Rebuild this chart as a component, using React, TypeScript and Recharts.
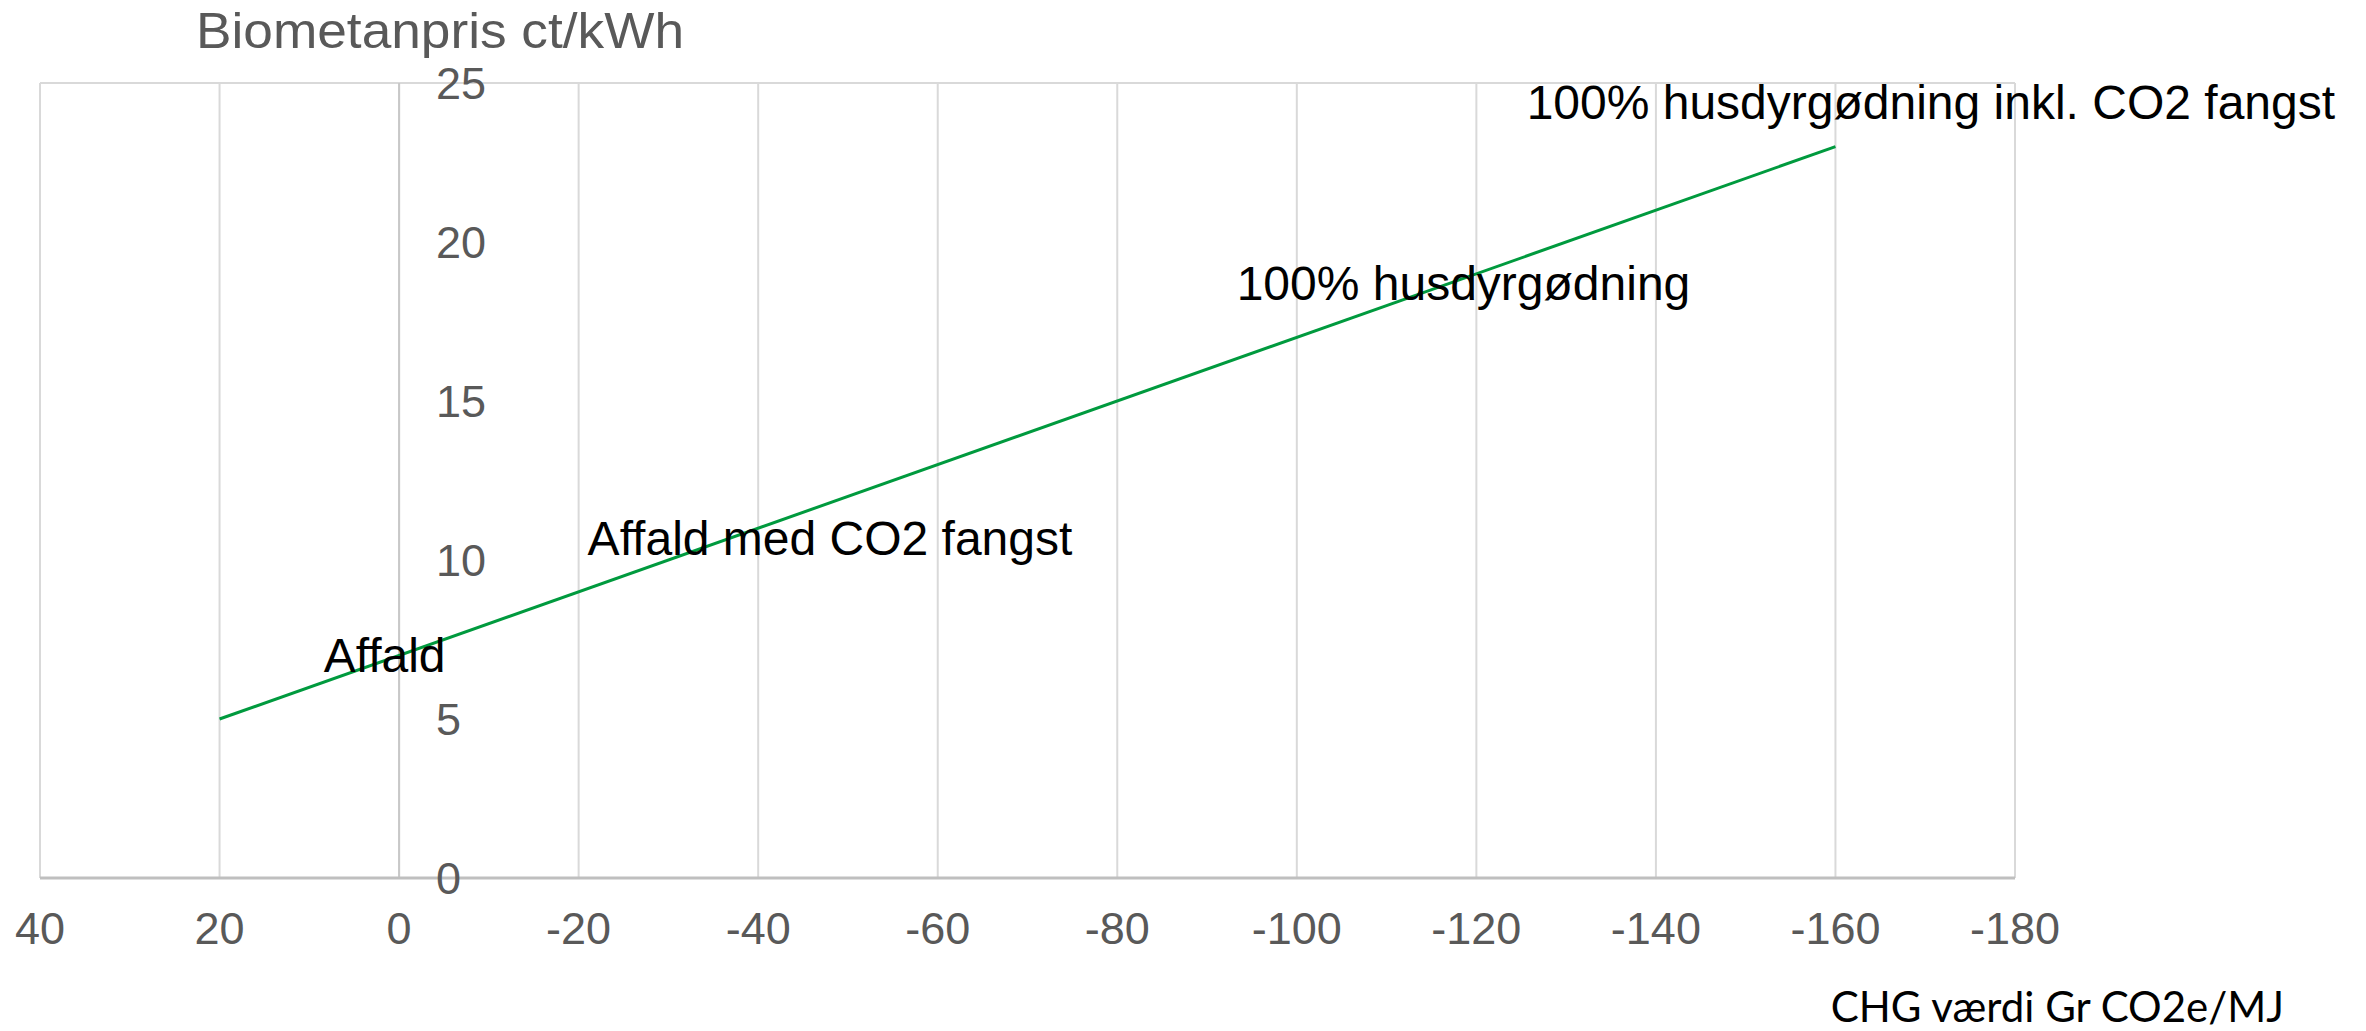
import React from "react";
import {
  ComposedChart,
  Line,
  Scatter,
  XAxis,
  YAxis,
  CartesianGrid,
  ReferenceLine,
} from "recharts";

// ---- data ----
const xTicks = [40, 20, 0, -20, -40, -60, -80, -100, -120, -140, -160, -180];
const yTicks = [0, 5, 10, 15, 20, 25];

const lineX = [20, -160];
const lineY = [5, 23];

const annoText = [
  "Affald",
  "Affald med CO2 fangst",
  "100% husdyrgødning",
  "100% husdyrgødning inkl. CO2 fangst",
];
const annoX = [8.4, -21, -93.3, -125.6];
const annoY = [7.0, 10.7, 18.7, 24.4];

const titleText = "Biometanpris ct/kWh";
const xTitleText = "CHG værdi Gr CO2e/MJ";

// ---- derived tables ----
const lineData = lineX.map((x, i) => ({ x, y: lineY[i] }));
const yLabelData = yTicks.map((y) => ({ x: 0, y }));
const annoData = annoText.map((t, i) => ({ x: annoX[i], y: annoY[i], t }));

const FONT = "'Liberation Sans', Arial, sans-serif";

const XTick = (props: any) => {
  const { x, y, payload } = props;
  return (
    <text
      x={x}
      y={y + 66}
      textAnchor="middle"
      fontFamily={FONT}
      fontSize={45}
      fill="#595959"
    >
      {payload.value}
    </text>
  );
};

const YLabelShape = (props: any) => {
  const { cx, cy, payload } = props;
  return (
    <text
      x={cx + 37}
      y={cy + 16}
      textAnchor="start"
      fontFamily={FONT}
      fontSize={45}
      fill="#595959"
    >
      {payload.y}
    </text>
  );
};

const AnnoShape = (props: any) => {
  const { cx, cy, payload } = props;
  return (
    <text
      x={cx}
      y={cy + 17}
      textAnchor="start"
      fontFamily={FONT}
      fontSize={48}
      fill="#000000"
    >
      {payload.t}
    </text>
  );
};

export default function App() {
  const W = 2366;
  const H = 1031;
  return (
    <div
      style={{
        position: "absolute",
        left: 0,
        top: 0,
        width: W,
        height: H,
        background: "#ffffff",
      }}
    >
      <ComposedChart
        width={W}
        height={H}
        margin={{ top: 83, right: 351, bottom: 93, left: 40 }}
      >
        <CartesianGrid stroke="#d9d9d9" strokeWidth={2} />
        <XAxis
          type="number"
          dataKey="x"
          domain={[-180, 40]}
          reversed
          ticks={xTicks}
          interval={0}
          height={60}
          tickSize={0}
          tickMargin={0}
          tickLine={false}
          axisLine={{ stroke: "#bfbfbf", strokeWidth: 3 }}
          tick={<XTick />}
        />
        <YAxis
          type="number"
          dataKey="y"
          domain={[0, 25]}
          ticks={yTicks}
          width={0}
          tick={false}
          tickLine={false}
          axisLine={false}
        />
        <ReferenceLine x={0} stroke="#c8c8c8" strokeWidth={2} />
        <Line
          data={lineData}
          dataKey="y"
          type="linear"
          stroke="#009A3E"
          strokeWidth={3}
          dot={false}
          activeDot={false}
          isAnimationActive={false}
        />
        <Scatter
          data={yLabelData}
          dataKey="y"
          shape={YLabelShape}
          isAnimationActive={false}
        />
        <Scatter
          data={annoData}
          dataKey="y"
          shape={AnnoShape}
          isAnimationActive={false}
        />
      </ComposedChart>
      <svg
        width={W}
        height={H}
        style={{ position: "absolute", left: 0, top: 0, pointerEvents: "none" }}
      >
        <text
          x={196}
          y={48}
          fontFamily={FONT}
          fontSize={50}
          fill="#595959"
          textLength={488}
          lengthAdjust="spacingAndGlyphs"
        >
          {titleText}
        </text>
        <text
          x={2284}
          y={1022}
          textAnchor="end"
          fontFamily="Lato, 'Open Sans', sans-serif"
          fontSize={42}
          fill="#000000"
        >
          {xTitleText}
        </text>
      </svg>
    </div>
  );
}
